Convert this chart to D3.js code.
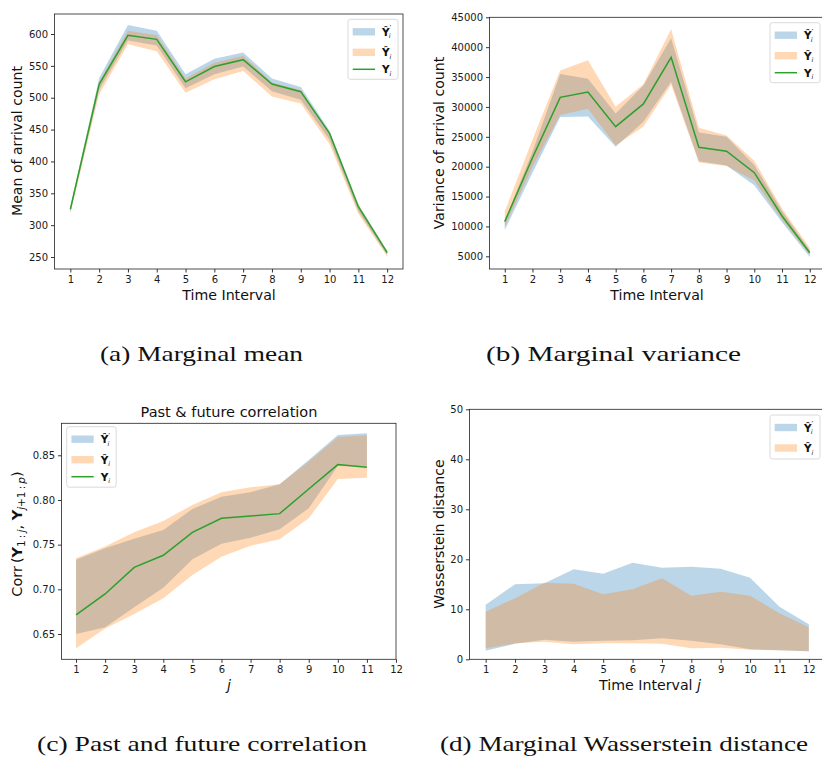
<!DOCTYPE html>
<html>
<head>
<meta charset="utf-8">
<script src="https://cdn.jsdelivr.net/npm/d3@7"></script>
<style>
  body { margin: 0; background: #fff; }
  svg { display: block; }
</style>
</head>
<body>
<svg id="fig" width="822" height="759" font-family="DejaVu Sans, sans-serif"></svg>
<script>
/* data */
const steps = [1, 2, 3, 4, 5, 6, 7, 8, 9, 10, 11, 12]
const corrSteps = [1, 2, 3, 4, 5, 6, 7, 8, 9, 10, 11]

// (a) marginal mean
const meanTrue = [325, 521, 598, 591.6, 525, 549, 559.7, 521.5, 509.5, 444, 329, 257]
const meanBlueLo = [320, 512, 590, 582, 515, 537, 549, 510, 497, 434, 322, 253]
const meanBlueHi = [328, 531, 614, 605, 537, 561, 571, 530, 517, 448, 333, 260]
const meanOrangeLo = [318, 505, 584, 573, 508, 529, 542, 502, 491, 427, 318, 251]
const meanOrangeHi = [328, 525, 605, 598, 530, 555, 566, 524, 512, 444, 331, 259]

// (b) marginal variance
const varTrue = [10800, 21500, 31600, 32500, 26700, 30500, 38300, 23250, 22600, 19000, 11750, 5600]
const varBlueLo = [9400, 19000, 28300, 28400, 23350, 27500, 34200, 20900, 20200, 16900, 10700, 4900]
const varBlueHi = [11000, 22500, 35500, 34700, 28900, 33600, 41500, 25700, 25000, 20300, 12600, 6000]
const varOrangeLo = [10000, 20000, 28650, 29700, 23600, 26700, 33700, 20700, 20100, 17700, 11100, 5200]
const varOrangeHi = [12500, 24500, 36100, 37800, 30050, 33800, 43000, 26500, 25200, 21000, 13000, 6400]

// (c) past & future correlation
const corrTrue = [0.6713, 0.6948, 0.7246, 0.7381, 0.7638, 0.7795, 0.7821, 0.7847, 0.8123, 0.8396, 0.8366]
const corrBlueLo = [0.650, 0.6575, 0.6799, 0.7019, 0.7336, 0.7511, 0.7578, 0.7672, 0.7907, 0.838, 0.8373]
const corrBlueHi = [0.7332, 0.7459, 0.7567, 0.7664, 0.7899, 0.8037, 0.8086, 0.8175, 0.8448, 0.8728, 0.8746]
const corrOrangeLo = [0.634, 0.6563, 0.6724, 0.690, 0.716, 0.7366, 0.7489, 0.756, 0.7795, 0.8235, 0.825]
const corrOrangeHi = [0.7347, 0.7478, 0.7638, 0.7765, 0.7944, 0.8086, 0.8142, 0.8175, 0.843, 0.8705, 0.8724]

// (d) marginal Wasserstein distance
const wsBlueLo = [1.7, 3.1, 3.9, 3.5, 3.7, 3.8, 4.2, 3.7, 3.0, 2.0, 1.8, 1.6]
const wsBlueHi = [10.9, 15.0, 15.2, 18.0, 17.1, 19.3, 18.3, 18.5, 18.1, 16.3, 10.5, 7.0]
const wsOrangeLo = [2.2, 3.2, 3.5, 3.0, 3.2, 3.2, 3.1, 2.2, 2.3, 1.9, 1.8, 1.6]
const wsOrangeHi = [9.5, 12.2, 15.3, 15.1, 13.0, 14.0, 16.2, 12.7, 13.5, 12.7, 9.2, 6.4]

const meanTicks = [250, 300, 350, 400, 450, 500, 550, 600]
const varTicks = [5000, 10000, 15000, 20000, 25000, 30000, 35000, 40000, 45000]
const corrTicks = [0.65, 0.70, 0.75, 0.80, 0.85]
const wsTicks = [0, 10, 20, 30, 40, 50]

const captions = ["(a) Marginal mean", "(b) Marginal variance", "(c) Past and future correlation", "(d) Marginal Wasserstein distance"]

const blue = "#1f77b4", orange = "#ff7f0e", green = "#2ca02c"

const svg = d3.select("#fig")
svg.append("rect").attr("width", 822).attr("height", 759).attr("fill", "#fff")

const panel = (box, xDom, yDom, xTicks, yTicks, yFmt) => {
    const x = d3.scaleLinear().domain(xDom).range([box.left, box.right])
    const y = d3.scaleLinear().domain(yDom).range([box.bottom, box.top])
    const g = svg.append("g")

    g.append("g")
        .attr("transform", "translate(0," + box.bottom + ")")
        .call(d3.axisBottom(x).tickValues(xTicks).tickFormat(d3.format("d")).tickSize(3.5).tickPadding(3).tickSizeOuter(0))
    g.append("g")
        .attr("transform", "translate(" + box.left + ",0)")
        .call(d3.axisLeft(y).tickValues(yTicks).tickFormat(yFmt).tickSize(3.5).tickPadding(3).tickSizeOuter(0))
    g.selectAll(".domain").remove()
    g.selectAll(".tick line").attr("stroke", "#000").attr("stroke-width", 0.8)
    g.selectAll(".tick text").attr("font-size", 10).attr("fill", "#1a1a1a")
        .attr("font-family", "DejaVu Sans")

    const plot = g.append("g")
    g.append("rect")
        .attr("x", box.left).attr("y", box.top)
        .attr("width", box.right - box.left).attr("height", box.bottom - box.top)
        .attr("fill", "none").attr("stroke", "#222").attr("stroke-width", 0.8)
    return {x, y, g, plot}
}

const band = (p, xs, lo, hi, color) => {
    const area = d3.area()
        .x((d, i) => p.x(xs[i]))
        .y0((d, i) => p.y(lo[i]))
        .y1((d, i) => p.y(hi[i]))
    p.plot.append("path").datum(xs).attr("d", area)
        .attr("fill", color).attr("fill-opacity", 0.3)
}

const line = (p, xs, vals) => {
    const ln = d3.line().x((d, i) => p.x(xs[i])).y((d, i) => p.y(vals[i]))
    p.plot.append("path").datum(xs).attr("d", ln)
        .attr("fill", "none").attr("stroke", green).attr("stroke-width", 1.5)
}

// one text element per legend label: bold Y (with hat), optional prime, subscript i
const symbol = (g, x, y, kind) => {
    const t = g.append("text").attr("x", x).attr("y", y + 4).attr("fill", "#111")
    t.append("tspan").attr("font-size", 10.5).attr("font-weight", "bold")
        .text(kind === "true" ? "Y" : "\u0176")
    if (kind === "prime") {
        t.append("tspan").attr("font-size", 8).attr("dy", -3.5).text("\u2032")
        t.append("tspan").attr("font-size", 6.5).attr("font-style", "italic").attr("dx", -2.6).attr("dy", 6).text("i")
    } else {
        t.append("tspan").attr("font-size", 6.5).attr("font-style", "italic").attr("dy", 2.5).text("i")
    }
}

const legend = (bx, by, bw, bh, entries) => {
    const g = svg.append("g")
    g.append("rect").attr("x", bx).attr("y", by).attr("width", bw).attr("height", bh)
        .attr("rx", 2.5).attr("fill", "#fff").attr("fill-opacity", 0.8)
        .attr("stroke", "#d0d0d0").attr("stroke-width", 0.8)
    entries.forEach(e => {
        const cy = by + e.dy
        if (e.kind === "true")
            g.append("line").attr("x1", bx + 4.7).attr("x2", bx + 27).attr("y1", cy).attr("y2", cy)
                .attr("stroke", green).attr("stroke-width", 1.5)
        else
            g.append("rect").attr("x", bx + 4.7).attr("y", cy - 3.7).attr("width", 22.3).attr("height", 7.4)
                .attr("fill", e.kind === "prime" ? blue : orange).attr("fill-opacity", 0.3)
        symbol(g, bx + 34, cy, e.kind)
    })
}

const threeEntries = [{kind: "prime", dy: 12.5}, {kind: "hat", dy: 33}, {kind: "true", dy: 50}]

const xLabel = (cx, y, txt, it) => {
    const t = svg.append("text").attr("x", cx).attr("y", y).attr("text-anchor", "middle")
        .attr("font-size", 14.2).attr("fill", "#111").text(txt)
    if (it) t.append("tspan").attr("font-style", "italic").text(it)
}
const yLabel = (x, cy, txt) => svg.append("text")
    .attr("transform", "translate(" + x + "," + cy + ") rotate(-90)")
    .attr("text-anchor", "middle").attr("font-size", 14.1).attr("fill", "#111").text(txt)

// (a)
const pa = panel({left: 54.5, right: 403, top: 14, bottom: 269}, [0.45, 12.55], [231.2, 631.4], steps, meanTicks, d3.format("d"))
band(pa, steps, meanBlueLo, meanBlueHi, blue)
band(pa, steps, meanOrangeLo, meanOrangeHi, orange)
line(pa, steps, meanTrue)
legend(348, 19.3, 50, 60, threeEntries)
xLabel(229, 300, "Time Interval")
yLabel(22, 141, "Mean of arrival count")

// (b)
const pb = panel({left: 489.5, right: 825, top: 17.3, bottom: 269}, [0.45, 12.55], [2875, 45000], steps, varTicks, d3.format("d"))
band(pb, steps, varBlueLo, varBlueHi, blue)
band(pb, steps, varOrangeLo, varOrangeHi, orange)
line(pb, steps, varTrue)
legend(770, 22.7, 50, 60, threeEntries)
xLabel(657, 300, "Time Interval")
yLabel(444, 143, "Variance of arrival count")

// (c)
const pc = panel({left: 61.5, right: 396, top: 423.3, bottom: 659.3}, [0.5, 12], [0.6217, 0.8858], steps, corrTicks, d3.format(".2f"))
band(pc, corrSteps, corrBlueLo, corrBlueHi, blue)
band(pc, corrSteps, corrOrangeLo, corrOrangeHi, orange)
line(pc, corrSteps, corrTrue)
legend(66.7, 426.7, 49.5, 60.5, threeEntries)
svg.append("text").attr("x", 229).attr("y", 416.5).attr("text-anchor", "middle")
    .attr("font-size", 14.5).attr("fill", "#111").text("Past & future correlation")
xLabel(229, 690, "", "j")
const cl = svg.append("text")
    .attr("transform", "translate(22,534) rotate(-90)")
    .attr("text-anchor", "middle").attr("font-size", 14.5).attr("fill", "#111")
cl.append("tspan").text("Corr\u2009(")
cl.append("tspan").attr("font-weight", "bold").text("Y")
cl.append("tspan").attr("font-size", 10.5).attr("dy", 3).text("1\u2009:\u2009")
cl.append("tspan").attr("font-size", 10.5).attr("font-style", "italic").text("j")
cl.append("tspan").attr("dy", -3).text(", ")
cl.append("tspan").attr("font-weight", "bold").text("Y")
cl.append("tspan").attr("font-size", 10.5).attr("dy", 3).attr("font-style", "italic").text("j")
cl.append("tspan").attr("font-size", 10.5).text("+1\u2009:\u2009")
cl.append("tspan").attr("font-size", 10.5).attr("font-style", "italic").text("p")
cl.append("tspan").attr("dy", -3).text(")")

// (d)
const pd = panel({left: 469.5, right: 825, top: 409.3, bottom: 659.3}, [0.45, 12.55], [0, 50], steps, wsTicks, d3.format("d"))
band(pd, steps, wsBlueLo, wsBlueHi, blue)
band(pd, steps, wsOrangeLo, wsOrangeHi, orange)
legend(770, 415, 50, 44, threeEntries.slice(0, 2))
xLabel(650, 690, "Time Interval ", "j")
yLabel(444, 534, "Wasserstein distance")

// sub-figure captions
const capPos = [[100, 361, 203], [486, 361, 255], [37, 751, 330], [440, 751, 368]]
captions.forEach((c, i) => {
    svg.append("text")
        .attr("font-family", "Liberation Serif, serif")
        .attr("x", capPos[i][0]).attr("y", capPos[i][1])
        .attr("textLength", capPos[i][2]).attr("lengthAdjust", "spacingAndGlyphs")
        .attr("font-size", 22).attr("fill", "#111").text(c)
})
</script>
</body>
</html>
